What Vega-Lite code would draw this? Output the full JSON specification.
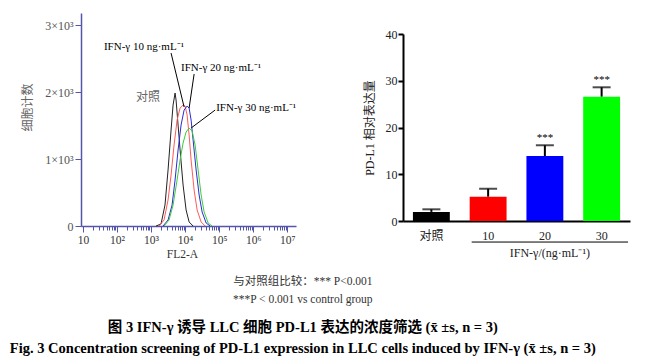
{
  "$schema": "https://vega.github.io/schema/vega-lite/v6.json",
  "background": "white",
  "padding": {"left": 6, "top": 13, "right": 5, "bottom": 2},
  "config": {
    "view": {"stroke": null},
    "font": "Liberation Serif, Noto Sans CJK SC",
    "axis": {"grid": false, "labelFont": "Liberation Serif, Noto Sans CJK SC", "titleFont": "Liberation Serif, Noto Sans CJK SC", "titleFontWeight": "normal"},
    "text": {"font": "Liberation Serif, Noto Sans CJK SC"}
  },
  "datasets": {
    "histogram": [
      {"group": "对照", "fl2a": 1403, "count": 0},
      {"group": "对照", "fl2a": 1967, "count": 30},
      {"group": "对照", "fl2a": 2570, "count": 313},
      {"group": "对照", "fl2a": 3162, "count": 836},
      {"group": "对照", "fl2a": 3874, "count": 1433},
      {"group": "对照", "fl2a": 4437, "count": 1806},
      {"group": "对照", "fl2a": 5080, "count": 1985},
      {"group": "对照", "fl2a": 5433, "count": 1881},
      {"group": "对照", "fl2a": 6223, "count": 1507},
      {"group": "对照", "fl2a": 7129, "count": 1134},
      {"group": "对照", "fl2a": 8730, "count": 612},
      {"group": "对照", "fl2a": 10700, "count": 239},
      {"group": "对照", "fl2a": 13120, "count": 60},
      {"group": "对照", "fl2a": 17180, "count": 0},
      {"group": "10", "fl2a": 1718, "count": 0},
      {"group": "10", "fl2a": 2410, "count": 90},
      {"group": "10", "fl2a": 3162, "count": 388},
      {"group": "10", "fl2a": 3874, "count": 761},
      {"group": "10", "fl2a": 4745, "count": 1209},
      {"group": "10", "fl2a": 5821, "count": 1582},
      {"group": "10", "fl2a": 7129, "count": 1761},
      {"group": "10", "fl2a": 8730, "count": 1806},
      {"group": "10", "fl2a": 10000, "count": 1791},
      {"group": "10", "fl2a": 11450, "count": 1657},
      {"group": "10", "fl2a": 13120, "count": 1358},
      {"group": "10", "fl2a": 15000, "count": 985},
      {"group": "10", "fl2a": 18400, "count": 537},
      {"group": "10", "fl2a": 22550, "count": 239},
      {"group": "10", "fl2a": 29560, "count": 60},
      {"group": "10", "fl2a": 38740, "count": 0},
      {"group": "20", "fl2a": 2254, "count": 0},
      {"group": "20", "fl2a": 3162, "count": 90},
      {"group": "20", "fl2a": 4150, "count": 313},
      {"group": "20", "fl2a": 5080, "count": 687},
      {"group": "20", "fl2a": 6223, "count": 1134},
      {"group": "20", "fl2a": 7620, "count": 1507},
      {"group": "20", "fl2a": 9350, "count": 1731},
      {"group": "20", "fl2a": 11450, "count": 1791},
      {"group": "20", "fl2a": 13120, "count": 1761},
      {"group": "20", "fl2a": 15000, "count": 1582},
      {"group": "20", "fl2a": 17180, "count": 1284},
      {"group": "20", "fl2a": 21080, "count": 836},
      {"group": "20", "fl2a": 25820, "count": 463},
      {"group": "20", "fl2a": 31620, "count": 209},
      {"group": "20", "fl2a": 41500, "count": 45},
      {"group": "20", "fl2a": 54330, "count": 0},
      {"group": "30", "fl2a": 2410, "count": 0},
      {"group": "30", "fl2a": 3380, "count": 90},
      {"group": "30", "fl2a": 4437, "count": 313},
      {"group": "30", "fl2a": 5821, "count": 687},
      {"group": "30", "fl2a": 7129, "count": 985},
      {"group": "30", "fl2a": 8730, "count": 1239},
      {"group": "30", "fl2a": 10700, "count": 1403},
      {"group": "30", "fl2a": 13120, "count": 1463},
      {"group": "30", "fl2a": 16070, "count": 1418},
      {"group": "30", "fl2a": 19690, "count": 1209},
      {"group": "30", "fl2a": 24100, "count": 836},
      {"group": "30", "fl2a": 29560, "count": 463},
      {"group": "30", "fl2a": 36220, "count": 209},
      {"group": "30", "fl2a": 47450, "count": 45},
      {"group": "30", "fl2a": 62230, "count": 0}
    ],
    "curveLabels": [
      {"label": "IFN-γ 10 ng·mL⁻¹", "fl2a": 41.5, "count": 2672},
      {"label": "IFN-γ 20 ng·mL⁻¹", "fl2a": 7620, "count": 2358},
      {"label": "IFN-γ 30 ng·mL⁻¹", "fl2a": 81660, "count": 1761}
    ],
    "controlLabel": [
      {"label": "对照", "fl2a": 813, "count": 1925}
    ],
    "leaders": [
      {"fl2a_from": 3874, "count_from": 2582, "fl2a_to": 9350, "count_to": 1776},
      {"fl2a_from": 18400, "count_from": 2269, "fl2a_to": 13120, "count_to": 1761},
      {"fl2a_from": 76200, "count_from": 1731, "fl2a_to": 15000, "count_to": 1463}
    ],
    "bars": [
      {"group": "对照", "mean": 1.95, "upper": 2.5, "sig": ""},
      {"group": "10", "mean": 5.2, "upper": 6.9, "sig": ""},
      {"group": "20", "mean": 13.9, "upper": 16.2, "sig": "***"},
      {"group": "30", "mean": 26.6, "upper": 28.6, "sig": "***"}
    ],
    "groupTitle": [
      {"label": "IFN-γ/(ng·mL⁻¹)"}
    ]
  },
  "title": {
    "text": ["与对照组比较：*** P<0.001", "***P < 0.001 vs control group"],
    "orient": "bottom",
    "anchor": "middle",
    "font": "Liberation Serif, Noto Sans CJK SC",
    "fontSize": 11.5,
    "fontWeight": "normal",
    "color": "#333333",
    "lineHeight": 18,
    "offset": 16,
    "dx": -23,
    "subtitle": ["图 3    IFN-γ 诱导 LLC 细胞 PD-L1 表达的浓度筛选 (x̄ ±s, n = 3)", "Fig. 3   Concentration screening of PD-L1 expression in LLC cells induced by IFN-γ (x̄ ±s, n = 3)"],
    "subtitleFont": "Liberation Serif, Noto Sans CJK SC",
    "subtitleFontSize": 14.5,
    "subtitleFontWeight": "bold",
    "subtitleColor": "#000000",
    "subtitleLineHeight": 21,
    "subtitlePadding": 15
  },
  "spacing": 66,
  "resolve": {"scale": {"color": "independent"}},
  "hconcat": [
    {
      "width": 215,
      "height": 213,
      "layer": [
        {
          "data": {"name": "histogram"},
          "mark": {"type": "line", "strokeWidth": 1, "interpolate": "linear"},
          "encoding": {
            "x": {
              "field": "fl2a", "type": "quantitative", "title": "FL2-A",
              "scale": {"type": "log", "domain": [8.8, 18000000], "nice": false},
              "axis": {
                "values": [10,20,30,40,50,60,70,80,90,100,200,300,400,500,600,700,800,900,1000,2000,3000,4000,5000,6000,7000,8000,9000,10000,20000,30000,40000,50000,60000,70000,80000,90000,100000,200000,300000,400000,500000,600000,700000,800000,900000,1000000,2000000,3000000,4000000,5000000,6000000,7000000,8000000,9000000,10000000],
                "labelExpr": "abs(log(datum.value)/LN10 - round(log(datum.value)/LN10)) < 0.01 ? ['1','10','10²','10³','10⁴','10⁵','10⁶','10⁷'][round(log(datum.value)/LN10)] : ''",
                "labelOverlap": false,
                "labelBound": false,
                "labelFlush": false,
                "domainColor": "#5555aa",
                "domainWidth": 1.5,
                "tickColor": "#5555aa",
                "tickWidth": 1,
                "tickSize": {"condition": {"test": "abs(log(datum.value)/LN10 - round(log(datum.value)/LN10)) < 0.01", "value": 6}, "value": 4},
                "labelFontSize": 11.5,
                "labelColor": "#333333",
                "labelPadding": 2,
                "titleFontSize": 11.5,
                "titleColor": "#333333",
                "titlePadding": 3,
                "titleX": 101
              }
            },
            "y": {
              "field": "count", "type": "quantitative", "title": "细胞计数",
              "scale": {"domain": [0, 3180], "nice": false},
              "axis": {
                "values": [0, 1000, 2000, 3000],
                "labelExpr": "datum.value == 0 ? '0' : (datum.value/1000) + '×10³'",
                "domainColor": "#5555aa",
                "domainWidth": 1.5,
                "tickColor": "#5555aa",
                "tickSize": 6,
                "labelFontSize": 12,
                "labelColor": "#555555",
                "labelPadding": 2,
                "titleFontSize": 12,
                "titleColor": "#666666",
                "titlePadding": 10,
                "titleY": 94
              }
            },
            "color": {
              "field": "group", "type": "nominal", "legend": null,
              "scale": {"domain": ["对照", "10", "20", "30"], "range": ["#222222", "#ff5a5a", "#2a2ad8", "#3ccc3c"]}
            }
          }
        },
        {
          "data": {"name": "leaders"},
          "mark": {"type": "rule", "color": "#000000", "strokeWidth": 1},
          "encoding": {
            "x": {"field": "fl2a_from", "type": "quantitative"},
            "x2": {"field": "fl2a_to"},
            "y": {"field": "count_from", "type": "quantitative"},
            "y2": {"field": "count_to"}
          }
        },
        {
          "data": {"name": "curveLabels"},
          "mark": {"type": "text", "align": "left", "baseline": "middle", "fontSize": 11, "color": "#000000"},
          "encoding": {
            "x": {"field": "fl2a", "type": "quantitative"},
            "y": {"field": "count", "type": "quantitative"},
            "text": {"field": "label"}
          }
        },
        {
          "data": {"name": "controlLabel"},
          "mark": {"type": "text", "align": "center", "baseline": "middle", "fontSize": 12, "color": "#666666"},
          "encoding": {
            "x": {"field": "fl2a", "type": "quantitative"},
            "y": {"field": "count", "type": "quantitative"},
            "text": {"field": "label"}
          }
        }
      ]
    },
    {
      "spacing": 14,
      "vconcat": [
        {
          "width": 227,
          "height": 1,
          "data": {"values": []},
          "mark": {"type": "rule", "opacity": 0},
          "encoding": {}
        },
        {
          "width": 227,
          "height": 187,
          "layer": [
            {
              "data": {"name": "bars"},
              "mark": {"type": "bar"},
              "encoding": {
                "x": {
                  "field": "group", "type": "nominal", "sort": null, "title": null,
                  "scale": {"paddingInner": 0.35, "paddingOuter": 0.175},
                  "axis": {"ticks": false, "domainColor": "#000000", "domainWidth": 2, "labelAngle": 0, "labelFontSize": 12, "labelColor": "#222222", "labelPadding": 9}
                },
                "y": {
                  "field": "mean", "type": "quantitative", "title": "PD-L1 相对表达量",
                  "scale": {"domain": [0, 40]},
                  "axis": {"values": [0, 10, 20, 30, 40], "domainColor": "#000000", "domainWidth": 2, "tickColor": "#000000", "tickWidth": 2, "tickSize": 5, "labelFontSize": 12, "labelColor": "#222222", "labelPadding": 1, "titleFontSize": 12, "titleColor": "#222222", "titlePadding": 9}
                },
                "color": {
                  "field": "group", "type": "nominal", "legend": null,
                  "scale": {"domain": ["对照", "10", "20", "30"], "range": ["#000000", "#ff0000", "#0000ff", "#00ff00"]}
                }
              }
            },
            {
              "data": {"name": "bars"},
              "mark": {"type": "rule", "color": "#000000", "strokeWidth": 2},
              "encoding": {
                "x": {"field": "group", "type": "nominal", "sort": null},
                "y": {"field": "mean", "type": "quantitative"},
                "y2": {"field": "upper"}
              }
            },
            {
              "data": {"name": "bars"},
              "mark": {"type": "tick", "color": "#000000", "thickness": 2, "size": 18},
              "encoding": {
                "x": {"field": "group", "type": "nominal", "sort": null},
                "y": {"field": "upper", "type": "quantitative"}
              }
            },
            {
              "data": {"name": "bars"},
              "mark": {"type": "text", "baseline": "bottom", "dy": -2, "fontSize": 11, "color": "#000000"},
              "encoding": {
                "x": {"field": "group", "type": "nominal", "sort": null},
                "y": {"field": "upper", "type": "quantitative"},
                "text": {"field": "sig"}
              }
            },
            {
              "data": {"values": [{}]},
              "mark": {"type": "rule", "color": "#000000", "strokeWidth": 1, "x2Offset": 8, "xOffset": 2},
              "encoding": {
                "x": {"datum": "10", "bandPosition": 0},
                "x2": {"datum": "30", "bandPosition": 1},
                "y": {"datum": -4.5}
              }
            },
            {
              "data": {"name": "groupTitle"},
              "mark": {"type": "text", "align": "center", "baseline": "middle", "fontSize": 12, "color": "#222222", "dx": 5},
              "encoding": {
                "x": {"datum": "20", "bandPosition": 0.5},
                "y": {"datum": -6.9},
                "text": {"field": "label"}
              }
            }
          ]
        }
      ]
    }
  ]
}
